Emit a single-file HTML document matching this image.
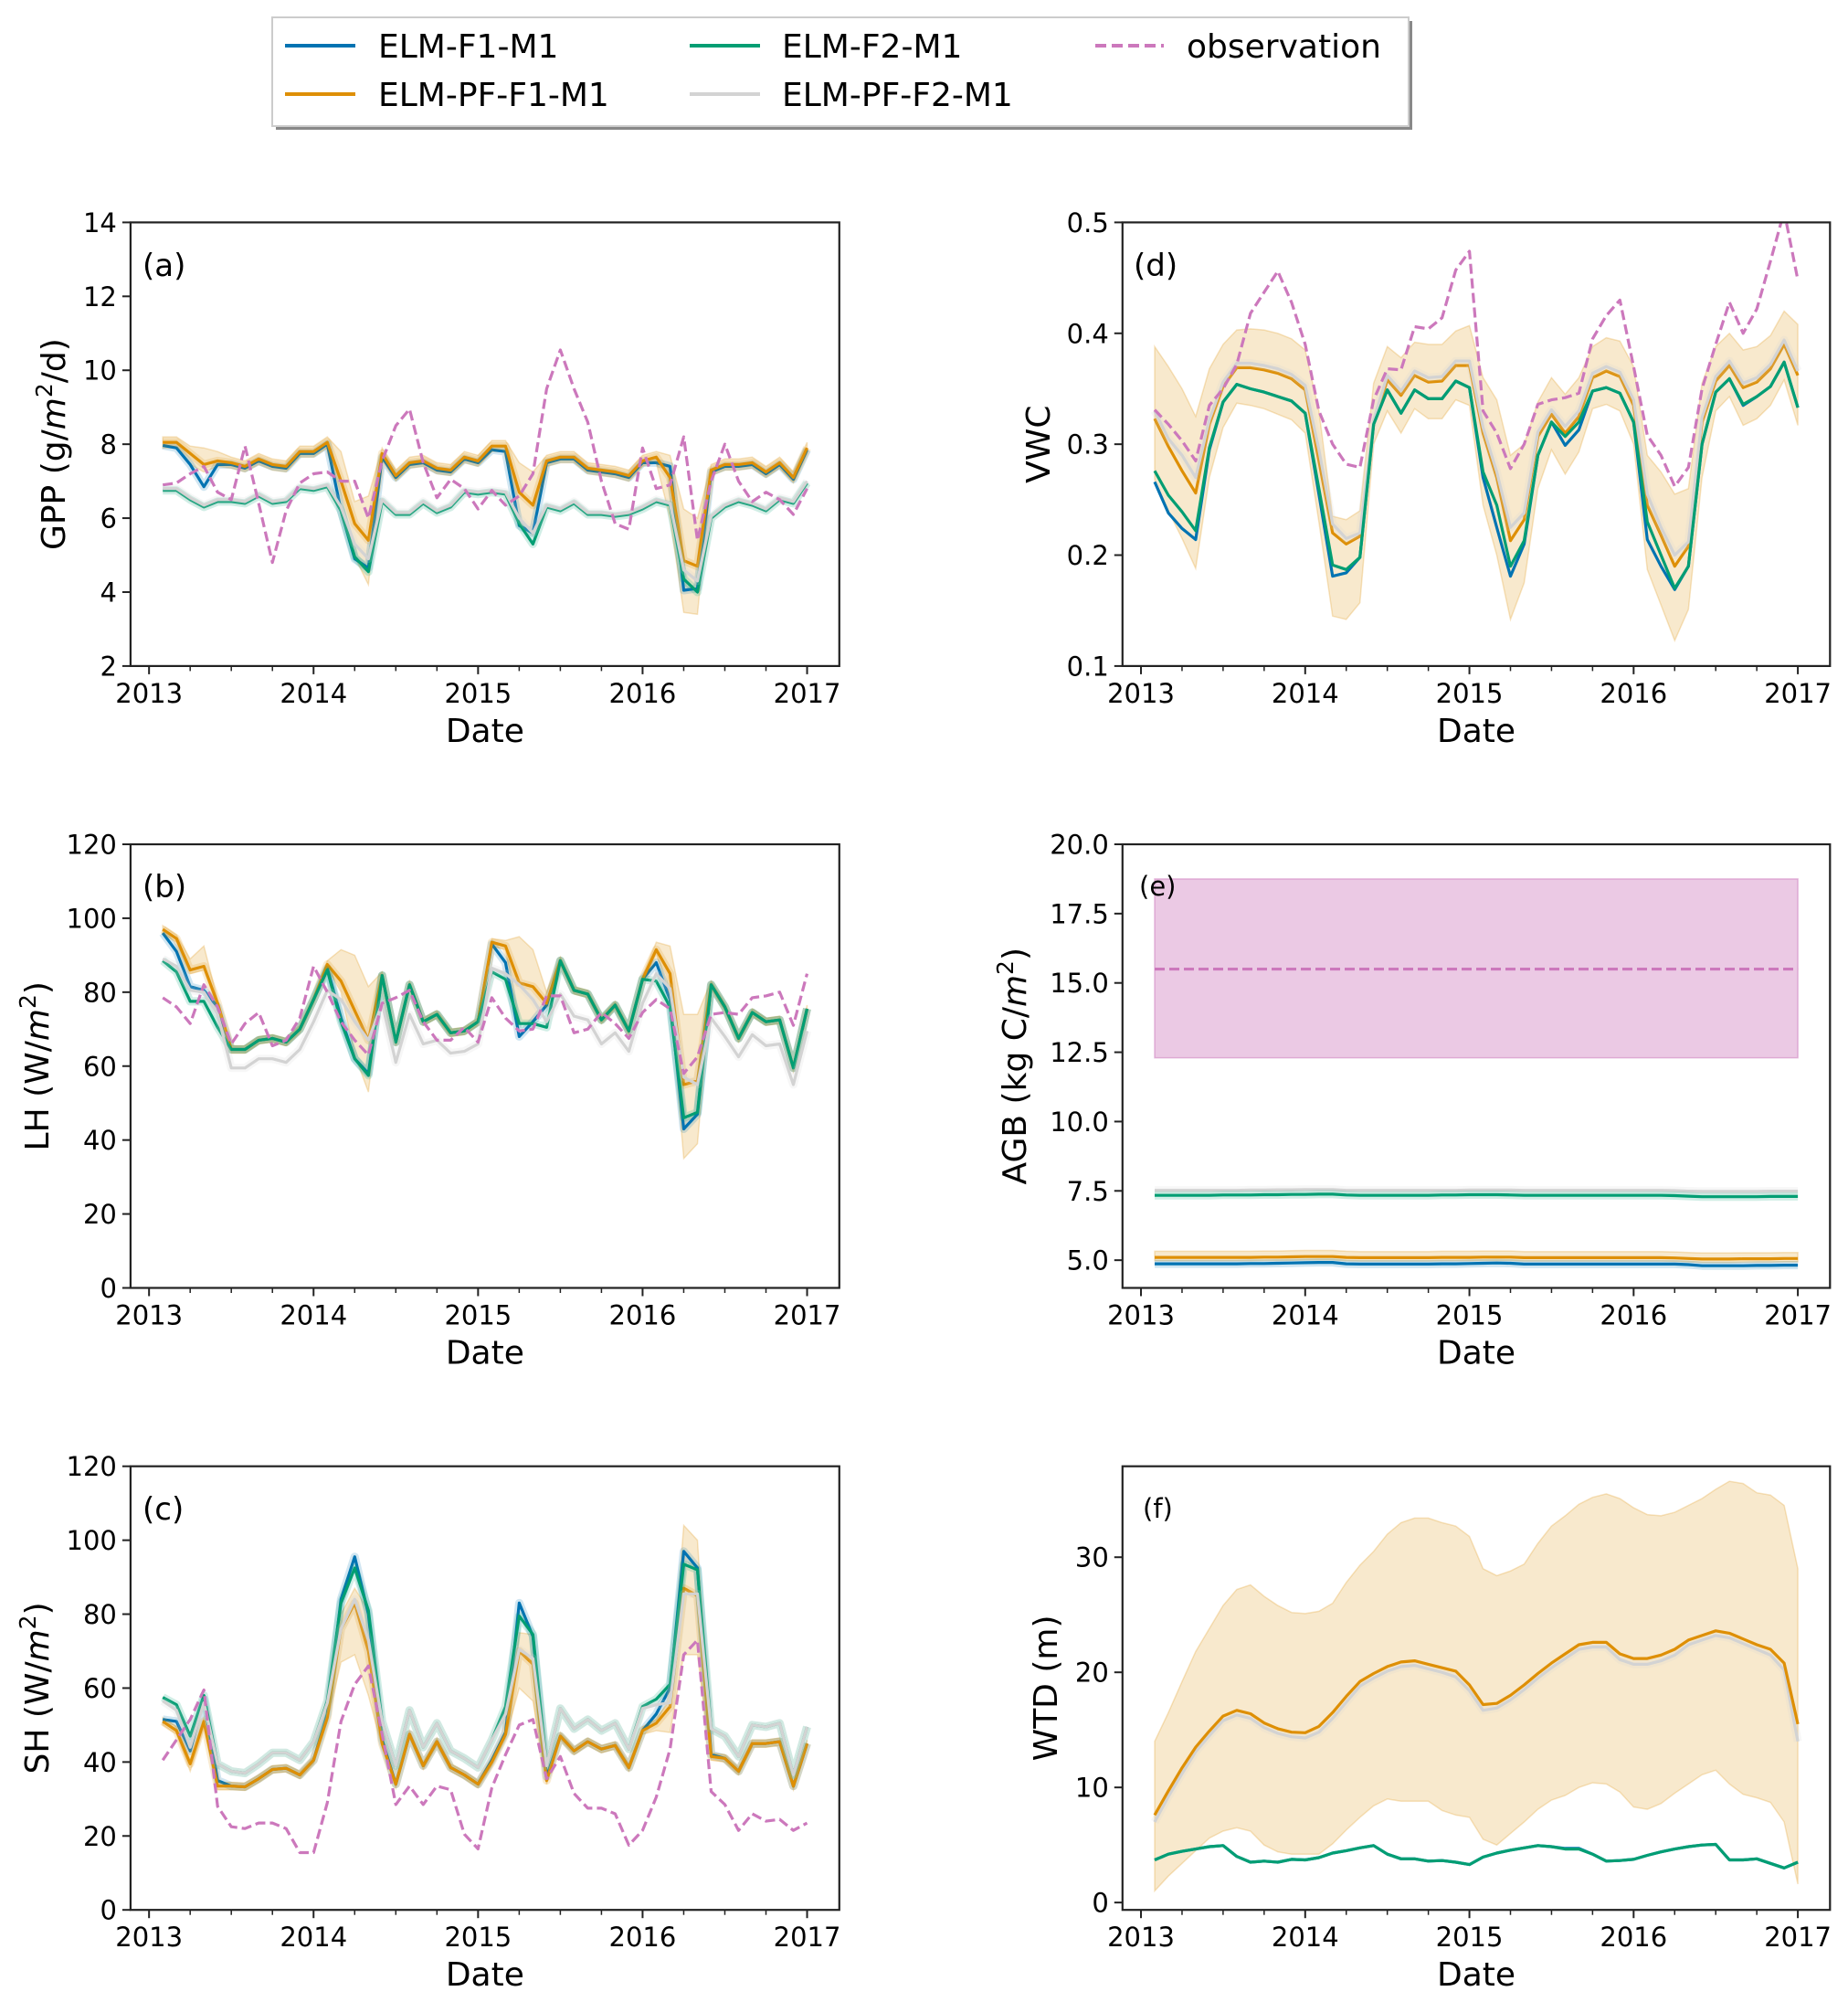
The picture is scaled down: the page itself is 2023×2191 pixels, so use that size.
<!DOCTYPE html>
<html><head><meta charset="utf-8"><title>ELM model comparison</title>
<style>
html,body{margin:0;padding:0;background:#fff;}
svg{display:block;font-family:"DejaVu Sans","Liberation Sans",sans-serif;}
</style></head>
<body>
<svg id="fig" xmlns="http://www.w3.org/2000/svg" width="2023" height="2191" viewBox="0 0 2023 2191">
  <g>
    <rect x="302" y="23" width="1244" height="119" fill="#888"/>
    <rect x="298" y="19" width="1244" height="119" fill="#fff" stroke="#cccccc" stroke-width="2"/>
    <g><line x1="312" y1="50" x2="389" y2="50" stroke="#0173b2" stroke-width="4"/><text x="414" y="63" font-size="36">ELM-F1-M1</text></g>
    <g><line x1="312" y1="103" x2="389" y2="103" stroke="#de8f05" stroke-width="4"/><text x="414" y="116" font-size="36">ELM-PF-F1-M1</text></g>
    <g><line x1="755" y1="50" x2="832" y2="50" stroke="#029e73" stroke-width="4"/><text x="856" y="63" font-size="36">ELM-F2-M1</text></g>
    <g><line x1="755" y1="103" x2="832" y2="103" stroke="#d3d3d3" stroke-width="4"/><text x="856" y="116" font-size="36">ELM-PF-F2-M1</text></g>
    <g><line x1="1199" y1="50" x2="1274" y2="50" stroke="#cc78bc" stroke-width="4" stroke-dasharray="12,6"/><text x="1299" y="63" font-size="36">observation</text></g>
  </g>
</svg>
<script>
// ---------- data (48 monthly values, Jan 2013 .. Dec 2016) ----------
const years = [2013, 2014, 2015, 2016, 2017];
const gppTicks = [2, 4, 6, 8, 10, 12, 14];
const lhTicks = [0, 20, 40, 60, 80, 100, 120];
const shTicks = [0, 20, 40, 60, 80, 100, 120];
const vwcTicks = [0.1, 0.2, 0.3, 0.4, 0.5];
const agbTicks = [5.0, 7.5, 10.0, 12.5, 15.0, 17.5, 20.0];
const wtdTicks = [0, 10, 20, 30];

const gppF1 = [7.97,7.9,7.45,6.85,7.45,7.45,7.35,7.55,7.4,7.35,7.75,7.75,8.0,6.2,4.9,4.65,7.65,7.1,7.45,7.5,7.3,7.25,7.6,7.5,7.85,7.8,5.8,5.6,7.5,7.6,7.6,7.3,7.25,7.2,7.1,7.5,7.5,7.4,4.05,4.1,7.25,7.4,7.4,7.45,7.2,7.45,7.05,7.85];
const gppPF1 = [8.05,8.05,7.75,7.45,7.55,7.5,7.4,7.6,7.45,7.4,7.8,7.8,8.05,7.0,5.85,5.4,7.75,7.15,7.5,7.55,7.35,7.3,7.65,7.55,7.95,7.95,6.7,6.35,7.55,7.65,7.65,7.35,7.3,7.25,7.15,7.55,7.65,7.1,4.85,4.7,7.3,7.45,7.45,7.5,7.25,7.5,7.1,7.9];
const gppF2 = [6.75,6.75,6.5,6.3,6.45,6.45,6.4,6.6,6.4,6.45,6.8,6.75,6.85,6.2,4.95,4.55,6.45,6.1,6.1,6.4,6.15,6.3,6.7,6.65,6.7,6.65,5.85,5.3,6.3,6.2,6.4,6.1,6.1,6.05,6.1,6.25,6.45,6.35,4.35,4.0,6.0,6.3,6.45,6.35,6.2,6.5,6.4,6.95];
const gppPF2 = [6.8,6.8,6.55,6.35,6.5,6.5,6.45,6.65,6.45,6.5,6.85,6.8,6.9,6.3,5.3,4.9,6.5,6.15,6.15,6.45,6.2,6.35,6.75,6.7,6.75,6.7,6.0,5.6,6.35,6.25,6.45,6.15,6.15,6.1,6.15,6.3,6.5,6.4,4.6,4.3,6.05,6.35,6.5,6.4,6.25,6.55,6.45,7.0];
const gppObs = [6.9,6.95,7.2,7.4,6.7,6.5,7.95,6.4,4.8,6.2,6.95,7.2,7.25,7.0,7.0,6.0,7.55,8.5,8.95,7.5,6.55,7.05,6.8,6.25,6.75,6.35,6.6,7.2,9.5,10.55,9.5,8.6,7.0,5.85,5.7,7.9,6.8,6.9,8.2,5.4,7.0,8.0,7.0,6.45,6.7,6.5,6.1,6.8];
const gppUp = [0.15,0.15,0.2,0.45,0.25,0.15,0.15,0.15,0.15,0.15,0.15,0.15,0.15,0.8,0.6,1.2,0.15,0.15,0.15,0.15,0.15,0.15,0.15,0.15,0.15,0.15,0.8,0.9,0.15,0.15,0.15,0.15,0.15,0.15,0.15,0.15,0.15,0.6,1.4,1.3,0.15,0.15,0.15,0.15,0.15,0.15,0.15,0.15];
const gppDn = [0.15,0.15,0.3,0.2,0.15,0.15,0.15,0.15,0.15,0.15,0.15,0.15,0.15,0.9,0.9,1.2,0.15,0.15,0.15,0.15,0.15,0.15,0.15,0.15,0.15,0.15,0.9,0.8,0.15,0.15,0.15,0.15,0.15,0.15,0.15,0.15,0.15,1.1,1.4,1.3,0.15,0.15,0.15,0.15,0.15,0.15,0.15,0.15];

const lhF1 = [96,91,81.5,80.5,76,64.5,64.5,67,67.5,66.5,70,78,86.5,73,62,58,84.5,66.5,82,72,74,69,69.5,72,93,88,68,72,76.5,88.5,80.5,79.5,72.5,76.5,69.5,83.5,88,78,43,47,82,76,67.5,74.5,72,72.5,59.5,75.5];
const lhPF1 = [97,94.5,86,87,77,64.5,64.5,67,67.5,66.5,70,78,87.5,83,75,67,84.5,66.5,82,72,74,69,69.5,72,93.5,92.5,82.5,81.5,77,88.5,80.5,79.5,72.5,76.5,69.5,83.5,91.5,85,55,56,82,76,67.5,74.5,72,72.5,59.5,75.5];
const lhF2 = [88.5,85.5,77.5,77.5,70.5,64.5,64.5,67,67.5,66.5,70,78,86,72,62,57.5,84.5,66.5,82,72,74,69,69.5,72,85.5,83.5,71.5,71.5,70.5,88.5,80.5,79.5,72.5,76.5,69.5,83.5,83,76,46,47.5,82,76,67.5,74.5,72,72.5,59.5,75.5];
const lhPF2 = [89,87,80.5,80,74,59.5,59.5,62,62,61,64.5,72,80.5,78,72,67,77,61,74,66,67,63.5,64,66,86.5,85,82,78,72,79.5,73.5,72.5,66,69,64,77,85,81,57,55,73,68,62.5,68.5,65.5,66,55,69.5];
const lhObs = [78.5,76,71.5,82,76,66,71.5,74.5,65.5,67,73,87,80,72,67,63,77,78.5,80.5,72,67,67,70.5,66.5,78.5,73,69.5,70,79,79,69,70,74.5,71.5,67.5,74.5,78,75.5,58,62.5,74,74.5,74,78.5,79,80,71,85];
const lhUp = [1,1,3,5.5,1,1,1,1,1,1,1,1,1,8.5,15,14.5,1,1,1,1,1,1,1,1,1,1.5,12.5,10,3,1,1,1,1,1,1,1,2,7.5,19,18,1,1,1,1,1,1,1,1];
const lhDn = [1,1,1,1,1,1,1,1,1,1,1,1,1,3,12,14,1,1,1,1,1,1,1,1,1,1,11,10,1,1,1,1,1,1,1,1,1,6,20,17,1,1,1,1,1,1,1,1];

const shF1 = [51.5,51,43,57,35,33.5,33.3,35.5,38,38.3,36.5,40.5,53,84,95.5,80,46,34,47.5,39,45.5,38.5,36.5,34,40.5,48,83,74,36,47,43,45.5,43.5,44.5,38.5,48.5,53,60,97,92.5,42,41,37.5,45,45,45.5,33.5,45];
const shPF1 = [51,48.5,39.5,51,33.5,33.5,33.3,35.5,38,38.3,36.5,40.5,52,76,83,70,45,34,47.5,39,45.5,38.5,36.5,34,40,47.5,70,66.5,35,47,43,45.5,43.5,44.5,38.5,48.5,50.5,55,87,85,41.5,41,37.5,45,45,45.5,33.5,45];
const shF2 = [57.5,55.5,47,58,39.5,37.5,37,39.5,42.5,42.5,40.5,45.5,56.5,83,92.5,81,51,39,54,44,50.5,43,41,38.5,46,55,79.5,74.5,39,54.5,49,51.5,48.5,50.5,43.5,55,57,61,93.5,92,49,47,41.5,50,49.5,50.5,36.5,49.5];
const shPF2 = [56.5,54,44,56,39.5,37.5,37,39.5,42.5,42.5,40.5,45.5,56,76,84,73,51,39,54,44,50.5,43,41,38.5,46,53,70.5,68,39,54.5,49,51.5,48.5,50.5,43.5,54.5,55.5,56,85.5,85.5,49,47,41.5,50,49.5,50.5,36.5,49.5];
const shObs = [40.5,46,51.5,59.5,28,22.5,22,23.5,23.5,22,15.5,15.5,29,51,61,66,47.5,28.5,33.5,28.5,33.5,32.5,20.5,16.5,33,42,50,51.5,35.5,41.5,31.5,27.5,27.5,26,17.5,21.5,30.5,43.5,69,73,32,28.5,21.5,26,24,24.5,21.5,23.5];
const shUp = [1,1,1,1,1,1,1,1,1,1,1,1,1,4,4,11,1,1,1,1,1,1,1,1,1,1,5,8,1,1,1,1,1,1,1,1,1,2,17,15,1,1,1,1,1,1,1,1];
const shDn = [1,1,2,2,1,1,1,1,1,1,1,1,1,9,14,12,1,1,1,1,1,1,1,1,1,1,10,10,1,1,1,1,1,1,1,1,2,7,18,16,1,1,1,1,1,1,1,1];

const vwcF1 = [0.266,0.238,0.224,0.214,0.295,0.338,0.354,0.35,0.347,0.343,0.339,0.328,0.255,0.181,0.184,0.198,0.318,0.349,0.328,0.349,0.341,0.341,0.357,0.351,0.27,0.225,0.181,0.21,0.29,0.32,0.299,0.313,0.348,0.351,0.346,0.32,0.214,0.19,0.169,0.19,0.3,0.347,0.359,0.335,0.343,0.352,0.374,0.333];
const vwcPF1 = [0.323,0.298,0.276,0.256,0.318,0.352,0.369,0.369,0.367,0.364,0.359,0.349,0.285,0.22,0.21,0.217,0.318,0.358,0.344,0.362,0.356,0.357,0.371,0.371,0.31,0.27,0.213,0.232,0.307,0.327,0.31,0.325,0.36,0.366,0.361,0.335,0.245,0.218,0.19,0.208,0.32,0.357,0.371,0.351,0.356,0.368,0.39,0.362];
const vwcF2 = [0.276,0.254,0.239,0.222,0.297,0.338,0.354,0.35,0.347,0.343,0.339,0.328,0.26,0.191,0.187,0.198,0.318,0.349,0.328,0.349,0.341,0.341,0.357,0.351,0.275,0.245,0.19,0.213,0.29,0.32,0.307,0.32,0.348,0.351,0.346,0.32,0.23,0.2,0.17,0.19,0.3,0.347,0.359,0.336,0.343,0.352,0.374,0.333];
const vwcPF2 = [0.33,0.305,0.29,0.27,0.322,0.356,0.373,0.373,0.371,0.368,0.363,0.353,0.295,0.228,0.215,0.22,0.322,0.362,0.348,0.366,0.36,0.361,0.375,0.375,0.315,0.275,0.225,0.238,0.311,0.331,0.316,0.33,0.364,0.37,0.365,0.34,0.255,0.225,0.2,0.212,0.324,0.361,0.375,0.355,0.36,0.372,0.394,0.366];
const vwcObs = [0.331,0.318,0.303,0.285,0.335,0.35,0.372,0.418,0.437,0.456,0.428,0.39,0.33,0.3,0.282,0.279,0.34,0.368,0.367,0.406,0.404,0.414,0.457,0.474,0.33,0.31,0.278,0.3,0.336,0.34,0.342,0.346,0.395,0.416,0.43,0.37,0.308,0.29,0.262,0.279,0.35,0.39,0.428,0.4,0.422,0.465,0.51,0.448];
const vwcHi = [0.388,0.37,0.35,0.325,0.368,0.39,0.403,0.404,0.403,0.4,0.395,0.385,0.33,0.235,0.232,0.24,0.355,0.388,0.378,0.392,0.39,0.39,0.402,0.407,0.36,0.34,0.29,0.3,0.338,0.36,0.345,0.36,0.388,0.396,0.393,0.37,0.29,0.275,0.255,0.26,0.355,0.388,0.4,0.385,0.388,0.398,0.42,0.408];
const vwcLo = [0.268,0.24,0.215,0.188,0.27,0.315,0.337,0.335,0.332,0.327,0.322,0.31,0.23,0.145,0.142,0.157,0.3,0.33,0.31,0.332,0.323,0.323,0.34,0.335,0.245,0.2,0.142,0.175,0.26,0.295,0.273,0.293,0.332,0.336,0.33,0.3,0.187,0.155,0.123,0.151,0.27,0.33,0.343,0.317,0.323,0.335,0.358,0.317];

const agbF1 = [4.87,4.87,4.87,4.87,4.87,4.87,4.87,4.88,4.88,4.89,4.9,4.91,4.92,4.92,4.87,4.86,4.86,4.86,4.86,4.86,4.86,4.87,4.87,4.88,4.89,4.9,4.89,4.86,4.86,4.86,4.86,4.86,4.86,4.86,4.86,4.86,4.86,4.86,4.86,4.84,4.8,4.8,4.8,4.8,4.81,4.81,4.82,4.82];
const agbPF1 = [5.1,5.1,5.1,5.1,5.1,5.1,5.1,5.1,5.11,5.11,5.12,5.13,5.13,5.13,5.1,5.09,5.09,5.09,5.09,5.09,5.09,5.1,5.1,5.1,5.11,5.11,5.11,5.09,5.09,5.09,5.09,5.09,5.09,5.09,5.09,5.09,5.09,5.09,5.08,5.06,5.04,5.04,5.04,5.05,5.05,5.05,5.06,5.06];
const agbF2 = [7.34,7.34,7.34,7.34,7.34,7.35,7.35,7.35,7.36,7.36,7.37,7.37,7.38,7.38,7.35,7.34,7.34,7.34,7.34,7.34,7.34,7.35,7.35,7.36,7.36,7.36,7.35,7.34,7.34,7.34,7.34,7.34,7.34,7.34,7.34,7.34,7.34,7.34,7.33,7.31,7.29,7.29,7.29,7.29,7.29,7.3,7.3,7.3];
const agbPF2 = [7.52,7.52,7.52,7.52,7.52,7.52,7.52,7.53,7.53,7.54,7.54,7.55,7.55,7.55,7.52,7.52,7.52,7.52,7.52,7.52,7.52,7.52,7.52,7.53,7.53,7.53,7.53,7.52,7.52,7.52,7.52,7.52,7.52,7.52,7.52,7.52,7.52,7.52,7.51,7.49,7.48,7.48,7.48,7.48,7.48,7.49,7.49,7.49];
const agbObsMean = [15.5];
const agbObsRange = [12.3, 18.75];

const wtdPF1 = [7.6,9.7,11.7,13.5,14.9,16.2,16.7,16.4,15.6,15.1,14.8,14.75,15.3,16.5,17.9,19.2,19.9,20.5,20.9,21.0,20.7,20.4,20.1,18.9,17.2,17.3,18.0,18.9,19.9,20.8,21.6,22.4,22.6,22.6,21.6,21.2,21.2,21.5,22.0,22.8,23.2,23.6,23.4,22.9,22.4,22.0,20.8,15.5];
const wtdPF2 = [7.0,9.2,11.2,13.1,14.5,15.8,16.3,16.0,15.2,14.7,14.4,14.3,14.8,16.0,17.4,18.8,19.5,20.1,20.5,20.6,20.3,20.0,19.6,18.4,16.7,16.9,17.6,18.5,19.5,20.4,21.2,22.0,22.2,22.2,21.1,20.7,20.7,21.0,21.5,22.4,22.8,23.2,23.0,22.5,22.0,21.5,20.2,14.0];
const wtdF1 = [3.7,4.2,4.45,4.65,4.85,4.95,4.0,3.5,3.6,3.5,3.75,3.7,3.9,4.3,4.5,4.75,4.95,4.2,3.8,3.8,3.6,3.65,3.5,3.3,3.95,4.3,4.55,4.75,4.95,4.85,4.7,4.7,4.2,3.6,3.65,3.75,4.1,4.4,4.65,4.85,5.0,5.05,3.7,3.7,3.8,3.4,3.0,3.5];
const wtdF2 = [3.7,4.2,4.45,4.65,4.85,4.95,4.0,3.5,3.6,3.5,3.75,3.7,3.9,4.3,4.5,4.75,4.95,4.2,3.8,3.8,3.6,3.65,3.5,3.3,3.95,4.3,4.55,4.75,4.95,4.85,4.65,4.65,4.2,3.6,3.65,3.75,4.1,4.4,4.65,4.85,5.0,5.05,3.7,3.7,3.8,3.4,3.0,3.5];
const wtdHi = [14.0,16.5,19.2,21.8,23.8,25.8,27.2,27.6,26.6,25.8,25.2,25.1,25.3,26.0,27.8,29.3,30.5,32.0,33.0,33.4,33.4,33.0,32.7,31.8,29.0,28.4,28.8,29.4,31.2,32.7,33.6,34.6,35.2,35.5,35.1,34.3,33.7,33.6,33.9,34.5,35.1,35.9,36.6,36.4,35.6,35.4,34.5,29.0];
const wtdLo = [1.0,2.3,3.4,4.5,5.6,6.2,6.5,6.2,5.0,4.4,4.2,4.2,4.2,5.1,6.3,7.4,8.4,9.0,8.8,8.8,8.8,8.0,7.6,7.4,5.5,5.0,6.0,7.0,8.1,8.9,9.3,10.0,10.4,10.3,9.6,8.3,8.1,8.6,9.5,10.3,11.1,11.5,10.3,9.4,9.1,8.7,7.0,1.6];

// ---------- drawing ----------
const NS = "http://www.w3.org/2000/svg";
const svg = document.getElementById("fig");
const COL = {f1:"#0173b2", pf1:"#de8f05", f2:"#029e73", pf2:"#d3d3d3", obs:"#cc78bc"};
const XMIN = 2013 + 1/12 - 0.05*(47/12), XMAX = 2017 + 0.05*(47/12);
function tOf(i){ return 2013 + (i+1)/12; }
function mk(tag, attrs, parent){
  const e = document.createElementNS(NS, tag);
  for (const k in attrs) e.setAttribute(k, attrs[k]);
  (parent||svg).appendChild(e); return e;
}
function fmt(v, dec){ return dec ? v.toFixed(dec) : String(v); }

function panel(cfg){
  const g = mk("g", {});
  
  
  const L=cfg.left, T=cfg.top, W=cfg.w, H=cfg.h;
  const sx = t => L + (t - XMIN)/(XMAX - XMIN)*W;
  const sy = v => T + H - (v - cfg.ymin)/(cfg.ymax - cfg.ymin)*H;
  const cid = "clip-" + cfg.name;
  const defs = mk("defs", {}, g);
  const cp = mk("clipPath", {id: cid}, defs);
  mk("rect", {x:L, y:T, width:W, height:H}, cp);
  const plot = mk("g", {"clip-path":"url(#"+cid+")"}, g);
  
  

  const pts = arr => arr.map((v,i)=> sx(tOf(i)).toFixed(1)+","+sy(v).toFixed(1)).join(" ");
  function band(lo, hi, color, op, name){
    const up = hi.map((v,i)=> sx(tOf(i)).toFixed(1)+","+sy(v).toFixed(1));
    const dn = lo.map((v,i)=> sx(tOf(i)).toFixed(1)+","+sy(v).toFixed(1)).reverse();
    const p = mk("polygon", {points: up.concat(dn).join(" "), fill: color, "fill-opacity": op, stroke: color, "stroke-opacity": op*1.2, "stroke-width": 1.5}, plot);
    
    
  }
  function line(arr, color, name, dashed, halo){
    if (halo){
      const h = mk("polyline", {points: pts(arr), fill:"none", stroke: color, "stroke-width": 9, "stroke-opacity": 0.18, "stroke-linejoin":"round"}, plot);
      
      
    }
    const a = {points: pts(arr), fill:"none", stroke: color, "stroke-width": 3.2, "stroke-linejoin":"round"};
    if (dashed) a["stroke-dasharray"] = "11,5";
    const p = mk("polyline", a, plot);
    
    
  }
  cfg.draw({band, line, sx, sy, plot});

  const fr = mk("rect", {x:L, y:T, width:W, height:H, fill:"none", stroke:"#222", "stroke-width":2.2}, g);
  
  
  years.forEach(yr=>{
    const x = sx(yr);
    mk("line", {x1:x, y1:T+H, x2:x, y2:T+H+9, stroke:"#222", "stroke-width":2}, g);
    const t = mk("text", {x:x, y:T+H+40, "font-size":29, "text-anchor":"middle"}, g);
    t.textContent = yr;
    
    
  });
  for (let k=1;k<16;k++){
    if (k%4===0) continue;
    const x = sx(2013 + k*0.25);
    mk("line", {x1:x, y1:T+H, x2:x, y2:T+H+5.5, stroke:"#222", "stroke-width":1.5}, g);
  }
  cfg.ticks.forEach(v=>{
    const y = sy(v);
    mk("line", {x1:L-9, y1:y, x2:L, y2:y, stroke:"#222", "stroke-width":2}, g);
    const t = mk("text", {x:L-15, y:y+10.5, "font-size":29, "text-anchor":"end"}, g);
    t.textContent = fmt(v, cfg.dec);
    
    
  });
  const xl = mk("text", {x: L + W/2, y: T+H+83, "font-size":36, "text-anchor":"middle"}, g);
  xl.textContent = "Date";
  
  
  const yl = mk("text", {x:0, y:0, "font-size":36, "text-anchor":"middle", transform:"translate("+(cfg.ylx+13)+","+(T+H/2)+") rotate(-90)"}, g);
  
  
  cfg.ylabel.forEach(part=>{
    const ts = mk("tspan", {}, yl);
    ts.textContent = part.t;
    if (part.i) ts.setAttribute("font-style","italic");
    if (part.sup){ ts.setAttribute("baseline-shift","super"); ts.setAttribute("font-size","25"); }
  });
  const pl = mk("text", {x: cfg.lx, y: cfg.ly, "font-size": cfg.lfs}, g);
  pl.textContent = cfg.letter;
  
  
}

const LL = 142.9, RL = 1228.8, LW = 775.9, RW = 774.5, PH = 485.5;
const T1 = 243.4, T2 = 924, T3 = 1604.7;
const lo = (a,d)=>a.map((v,i)=>v-d[i]);
const hi = (a,d)=>a.map((v,i)=>v+d[i]);

panel({name:"panel-a-gpp", left:LL, top:T1, w:LW, h:PH, ymin:2, ymax:14, ticks:gppTicks, dec:0, ylx:58,
  ylabel:[{t:"GPP (g/"},{t:"m",i:1},{t:"2",sup:1},{t:"/d)"}], letter:"(a)", lx:156, ly:302, lfs:34,
  draw:({band,line})=>{
    band(lo(gppPF1,gppDn), hi(gppPF1,gppUp), COL.pf1, 0.2, "band-elm-pf-f1-m1");
    line(gppF1, COL.f1, "line-elm-f1-m1", false, true);
    line(gppPF1, COL.pf1, "line-elm-pf-f1-m1", false, true);
    line(gppF2, COL.f2, "line-elm-f2-m1", false, true);
    line(gppPF2, COL.pf2, "line-elm-pf-f2-m1", false, true);
    line(gppObs, COL.obs, "line-observation", true, false);
  }});
panel({name:"panel-b-lh", left:LL, top:T2, w:LW, h:PH, ymin:0, ymax:120, ticks:lhTicks, dec:0, ylx:40,
  ylabel:[{t:"LH (W/"},{t:"m",i:1},{t:"2",sup:1},{t:")"}], letter:"(b)", lx:156, ly:982, lfs:34,
  draw:({band,line})=>{
    band(lo(lhPF1,lhDn), hi(lhPF1,lhUp), COL.pf1, 0.2, "band-elm-pf-f1-m1");
    line(lhF1, COL.f1, "line-elm-f1-m1", false, true);
    line(lhPF1, COL.pf1, "line-elm-pf-f1-m1", false, true);
    line(lhF2, COL.f2, "line-elm-f2-m1", false, true);
    line(lhPF2, COL.pf2, "line-elm-pf-f2-m1", false, true);
    line(lhObs, COL.obs, "line-observation", true, false);
  }});
panel({name:"panel-c-sh", left:LL, top:T3, w:LW, h:PH, ymin:0, ymax:120, ticks:shTicks, dec:0, ylx:40,
  ylabel:[{t:"SH (W/"},{t:"m",i:1},{t:"2",sup:1},{t:")"}], letter:"(c)", lx:156, ly:1663, lfs:34,
  draw:({band,line})=>{
    band(lo(shPF1,shDn), hi(shPF1,shUp), COL.pf1, 0.2, "band-elm-pf-f1-m1");
    line(shF1, COL.f1, "line-elm-f1-m1", false, true);
    line(shPF1, COL.pf1, "line-elm-pf-f1-m1", false, true);
    line(shF2, COL.f2, "line-elm-f2-m1", false, true);
    line(shPF2, COL.pf2, "line-elm-pf-f2-m1", false, true);
    line(shObs, COL.obs, "line-observation", true, false);
  }});
panel({name:"panel-d-vwc", left:RL, top:T1, w:RW, h:PH, ymin:0.1, ymax:0.5, ticks:vwcTicks, dec:1, ylx:1136,
  ylabel:[{t:"VWC"}], letter:"(d)", lx:1241, ly:302, lfs:34,
  draw:({band,line})=>{
    band(vwcLo, vwcHi, COL.pf1, 0.2, "band-elm-pf-f1-m1");
    line(vwcF1, COL.f1, "line-elm-f1-m1", false, false);
    line(vwcPF1, COL.pf1, "line-elm-pf-f1-m1", false, false);
    line(vwcPF2, COL.pf2, "line-elm-pf-f2-m1", false, true);
    line(vwcF2, COL.f2, "line-elm-f2-m1", false, false);
    line(vwcObs, COL.obs, "line-observation", true, false);
  }});
panel({name:"panel-e-agb", left:RL, top:T2, w:RW, h:PH, ymin:4, ymax:20, ticks:agbTicks, dec:1, ylx:1110,
  ylabel:[{t:"AGB (kg C/"},{t:"m",i:1},{t:"2",sup:1},{t:")"}], letter:"(e)", lx:1247, ly:980, lfs:29,
  draw:({band,line,sx,sy,plot})=>{
    const x0 = sx(tOf(0)), x1 = sx(tOf(47));
    const r = mk("rect", {x:x0, y:sy(agbObsRange[1]), width:x1-x0, height:sy(agbObsRange[0])-sy(agbObsRange[1]), fill:COL.obs, "fill-opacity":0.4, stroke:COL.obs, "stroke-opacity":0.5, "stroke-width":1.5}, plot);
    
    
    const m = mk("line", {x1:x0, x2:x1, y1:sy(agbObsMean[0]), y2:sy(agbObsMean[0]), stroke:COL.obs, "stroke-width":3.2, "stroke-dasharray":"11,5"}, plot);
    
    
    band(agbPF1.map(v=>v-0.12), agbPF1.map(v=>v+0.22), COL.pf1, 0.2, "band-elm-pf-f1-m1");
    line(agbPF2, COL.pf2, "line-elm-pf-f2-m1", false, true);
    line(agbF2, COL.f2, "line-elm-f2-m1", false, true);
    line(agbPF1, COL.pf1, "line-elm-pf-f1-m1", false, false);
    line(agbF1, COL.f1, "line-elm-f1-m1", false, true);
  }});
panel({name:"panel-f-wtd", left:RL, top:T3, w:RW, h:PH, ymin:-0.64, ymax:37.9, ticks:wtdTicks, dec:0, ylx:1144,
  ylabel:[{t:"WTD (m)"}], letter:"(f)", lx:1251, ly:1661, lfs:29,
  draw:({band,line})=>{
    band(wtdLo, wtdHi, COL.pf1, 0.2, "band-elm-pf-f1-m1");
    line(wtdPF2, COL.pf2, "line-elm-pf-f2-m1", false, true);
    line(wtdPF1, COL.pf1, "line-elm-pf-f1-m1", false, false);
    line(wtdF1, COL.f1, "line-elm-f1-m1", false, false);
    line(wtdF2, COL.f2, "line-elm-f2-m1", false, false);
  }});
</script>
</body></html>
